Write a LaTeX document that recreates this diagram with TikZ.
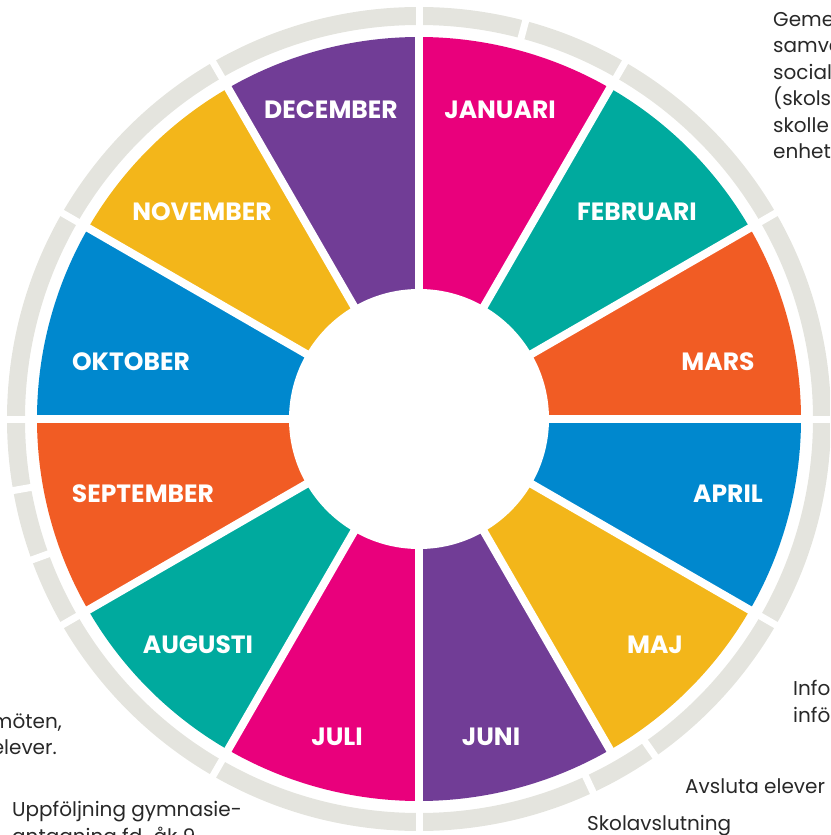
\documentclass[tikz,border=0pt]{standalone}
\usepackage{fontspec}
\setmainfont{Poppins}
\usetikzlibrary{positioning}

\definecolor{wheelpink}{RGB}{233,0,124}
\definecolor{wheelteal}{RGB}{0,170,158}
\definecolor{wheelorange}{RGB}{241,92,36}
\definecolor{wheelblue}{RGB}{0,136,206}
\definecolor{wheelyellow}{RGB}{243,182,26}
\definecolor{wheelpurple}{RGB}{113,61,150}
\definecolor{ringgray}{RGB}{228,228,222}
\definecolor{notegray}{RGB}{40,40,40}

\begin{document}
\begin{tikzpicture}[x=1pt,y=1pt]
            \tikzstyle{month} = [font=\bfseries\fontsize{25}{25}\selectfont, text=white, inner sep=0pt]
            \tikzstyle{note}  = [font=\fontsize{20}{26.5}\selectfont, text=notegray, inner sep=0pt, align=left]

            \clip (-419,-416) rectangle (411,419);

            % Outer ring .........................
            \draw[ringgray, line width=18] (0,0) circle[radius=403];
            \foreach \a in {0,30,60,75,90,120,150,180,190,200,210,240,270,295,305,330}
                \draw[white, line width=7] (\a:388) -- (\a:420);

            % Months .........................
            \foreach \a/\c in {60/wheelpink, 30/wheelteal, 0/wheelorange, -30/wheelblue, -60/wheelyellow, -90/wheelpurple,
                               -120/wheelpink, -150/wheelteal, 180/wheelorange, 150/wheelblue, 120/wheelyellow, 90/wheelpurple}
                \fill[\c] (0,0) -- (\a:382) arc[start angle=\a, delta angle=30, radius=382] -- cycle;
            \foreach \a in {0,30,...,330}
                \draw[white, line width=8] (0,0) -- (\a:386);
            \fill[white] (0,0) circle[radius=130];

            \node[month] (jan) at (81,309)    {JANUARI};
            \node[month] (feb) at (218,207)   {FEBRUARI};
            \node[month] (mar) at (299,57)    {MARS};
            \node[month] (apr) at (309,-75)   {APRIL};
            \node[month] (maj) at (236,-226)  {MAJ};
            \node[month] (jun) at (72,-318)   {JUNI};
            \node[month] (jul) at (-82,-318)  {JULI};
            \node[month] (aug) at (-221,-226) {AUGUSTI};
            \node[month] (sep) at (-276,-75)  {SEPTEMBER};
            \node[month] (okt) at (-288,57)   {OKTOBER};
            \node[month] (nov) at (-217,207)  {NOVEMBER};
            \node[month] (dec) at (-88,309)   {DECEMBER};

            % Notes (last line on the baseline) .........................
            \node[note, anchor=base west] (gemensam) at (354,260) {Geme\\samve\\social\\(skolsc\\skolle\\enhet};
            \node[note, anchor=base west] (info) at (374,-303) {Info\\inför};
            \node[note, anchor=base west] (avsluta) at (266,-374) {Avsluta elever};
            \node[note, anchor=base west] (skolavslut) at (168,-411) {Skolavslutning};
            \node[note, anchor=base east] (moten) at (-357,-309) {möten,};
            \node[note, anchor=base east] (elever) at (-362,-335) {elever.};
            \node[note, anchor=base west] (uppfoljning) at (-407,-424) {Uppföljning gymnasie-\\antagning fd. åk 9};

        \end{tikzpicture}
\end{document}
